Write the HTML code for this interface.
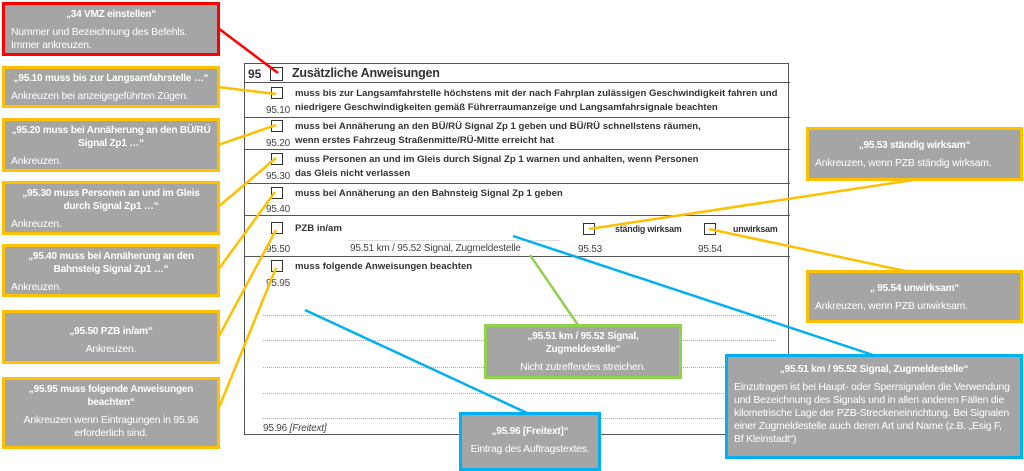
<!DOCTYPE html>
<html><head><meta charset="utf-8"><style>
body{margin:0;width:1024px;height:471px;background:#fff;position:relative;overflow:hidden;font-family:"Liberation Sans",sans-serif}
.a{position:absolute;white-space:nowrap}
.f{font-size:9.6px;font-weight:bold;color:#333;letter-spacing:0}
.s{font-size:8.9px;letter-spacing:-0.2px}
.n{font-size:10px;color:#444;letter-spacing:-0.2px}
.cb{position:absolute;width:10px;height:10px;border:1px solid #333;background:#fff}
.hl{position:absolute;left:244px;width:546px;height:0;border-top:1.5px solid #555}
.dl{position:absolute;left:263px;width:513px;height:0;border-top:1px dotted #aaa}
.c{position:absolute;box-sizing:border-box;background:#a5a5a5;border:3px solid #ffc000;color:#fff;font-size:10.4px;letter-spacing:-0.2px;line-height:13px;padding:3px 6px;white-space:nowrap;z-index:3}
.c b{display:block;text-align:center;margin-bottom:5px;font-size:10px}
.ctr{text-align:center}
</style></head><body>
<div style="position:absolute;left:244px;top:63px;width:545px;height:372px;border:1.5px solid #555;box-sizing:border-box"></div>
<div class="hl" style="top:82px"></div>
<div class="hl" style="top:117px"></div>
<div class="hl" style="top:149px"></div>
<div class="hl" style="top:183px"></div>
<div class="hl" style="top:215px"></div>
<div class="hl" style="top:256px"></div>
<div class="dl" style="top:315px"></div>
<div class="dl" style="top:340px"></div>
<div class="dl" style="top:367px"></div>
<div class="dl" style="top:393px"></div>
<div class="dl" style="top:418px"></div>
<div style="position:absolute;left:348px;top:240px;width:212px;border-top:1px solid #ddd"></div>

<div class="a" style="left:248px;top:67px;font-size:12px;font-weight:bold;color:#333">95</div>
<div class="cb" style="left:270px;top:67px;width:11px;height:12px"></div>
<div class="a" style="left:292px;top:66px;font-size:12.5px;font-weight:bold;color:#333;letter-spacing:-0.2px">Zusätzliche Anweisungen</div>

<div class="cb" style="left:271px;top:87px"></div>
<div class="a n" style="left:266px;top:105px">95.10</div>
<div class="a f" style="left:295px;top:88px">muss bis zur Langsamfahrstelle höchstens mit der nach Fahrplan zulässigen Geschwindigkeit fahren und</div>
<div class="a f" style="left:295px;top:102px">niedrigere Geschwindigkeiten gemäß Führerraumanzeige und Langsamfahrsignale beachten</div>

<div class="cb" style="left:271px;top:120px"></div>
<div class="a n" style="left:266px;top:138px">95.20</div>
<div class="a f" style="left:295px;top:121px">muss bei Annäherung an den BÜ/RÜ Signal Zp 1 geben und BÜ/RÜ schnellstens räumen,</div>
<div class="a f" style="left:295px;top:135px">wenn erstes Fahrzeug Straßenmitte/RÜ-Mitte erreicht hat</div>

<div class="cb" style="left:271px;top:153px"></div>
<div class="a n" style="left:266px;top:171px">95.30</div>
<div class="a f" style="left:295px;top:154px">muss Personen an und im Gleis durch Signal Zp 1 warnen und anhalten, wenn Personen</div>
<div class="a f" style="left:295px;top:168px">das Gleis nicht verlassen</div>

<div class="cb" style="left:271px;top:187px"></div>
<div class="a n" style="left:266px;top:204px">95.40</div>
<div class="a f" style="left:295px;top:188px">muss bei Annäherung an den Bahnsteig Signal Zp 1 geben</div>

<div class="cb" style="left:271px;top:222px"></div>
<div class="a n" style="left:266px;top:244px">95.50</div>
<div class="a f" style="left:295px;top:223px">PZB in/am</div>
<div class="a n" style="left:350px;top:243px">95.51 km / 95.52 Signal, Zugmeldestelle</div>
<div class="cb" style="left:583px;top:223px"></div>
<div class="a f s" style="left:615px;top:224px">ständig wirksam</div>
<div class="a n" style="left:578px;top:244px">95.53</div>
<div class="cb" style="left:704px;top:223px"></div>
<div class="a f s" style="left:733px;top:224px">unwirksam</div>
<div class="a n" style="left:698px;top:244px">95.54</div>

<div class="cb" style="left:271px;top:260px"></div>
<div class="a n" style="left:266px;top:278px">95.95</div>
<div class="a f" style="left:295px;top:261px">muss folgende Anweisungen beachten</div>
<div class="a n" style="left:263px;top:423px">95.96 <i>[Freitext]</i></div>

<svg width="1024" height="471" style="position:absolute;left:0;top:0;z-index:2">
<g stroke-width="2.5" fill="none">
<line x1="218" y1="28" x2="278" y2="73" stroke="#f00"/>
<line x1="218" y1="87" x2="276" y2="94" stroke="#ffc000"/>
<line x1="218" y1="145" x2="276" y2="125" stroke="#ffc000"/>
<line x1="218" y1="207" x2="276" y2="158" stroke="#ffc000"/>
<line x1="218" y1="270" x2="275" y2="192" stroke="#ffc000"/>
<line x1="218" y1="338" x2="276" y2="230" stroke="#ffc000"/>
<line x1="218" y1="410" x2="276" y2="268" stroke="#ffc000"/>
<line x1="913" y1="180" x2="589" y2="229" stroke="#ffc000"/>
<line x1="910" y1="272" x2="709" y2="229" stroke="#ffc000"/>
<line x1="578" y1="325" x2="530" y2="255" stroke="#92d050"/>
<line x1="873" y1="355" x2="513" y2="236" stroke="#00b0f0"/>
<line x1="527" y1="413" x2="305" y2="310" stroke="#00b0f0"/>
</g></svg>

<div class="c" style="left:2px;top:2px;width:218px;height:54px;border-color:#f00"><b>„34 VMZ einstellen“</b>Nummer und Bezeichnung des Befehls.<br>Immer ankreuzen.</div>
<div class="c" style="left:2px;top:66px;width:218px;height:42px"><b>„95.10 muss bis zur Langsamfahrstelle …“</b>Ankreuzen bei anzeigegeführten Zügen.</div>
<div class="c" style="left:2px;top:118px;width:218px;height:54px"><b>„95.20 muss bei Annäherung an den BÜ/RÜ<br>Signal Zp1 …“</b>Ankreuzen.</div>
<div class="c" style="left:2px;top:181px;width:218px;height:54px"><b>„95.30 muss Personen an und im Gleis<br>durch Signal Zp1 …“</b>Ankreuzen.</div>
<div class="c" style="left:2px;top:244px;width:218px;height:53px"><b>„95.40 muss bei Annäherung an den<br>Bahnsteig Signal Zp1 …“</b>Ankreuzen.</div>
<div class="c ctr" style="left:2px;top:310px;width:218px;height:54px;padding-top:12px"><b>„95.50 PZB in/am“</b>Ankreuzen.</div>
<div class="c ctr" style="left:2px;top:377px;width:218px;height:72px"><b>„95.95 muss folgende Anweisungen<br>beachten“</b>Ankreuzen wenn Eintragungen in 95.96<br>erforderlich sind.</div>
<div class="c" style="left:806px;top:127px;width:217px;height:54px;padding-top:9px"><b>„95.53 ständig wirksam“</b>Ankreuzen, wenn PZB ständig wirksam.</div>
<div class="c" style="left:806px;top:270px;width:217px;height:53px;padding-top:9px"><b>„ 95.54 unwirksam“</b>Ankreuzen, wenn PZB unwirksam.</div>
<div class="c ctr" style="left:484px;top:324px;width:198px;height:55px;border-color:#92d050"><b>„95.51 km / 95.52 Signal,<br>Zugmeldestelle“</b>Nicht zutreffendes streichen.</div>
<div class="c" style="left:725px;top:354px;width:298px;height:105px;border-color:#00b0f0;padding-top:6px"><b>„95.51 km / 95.52 Signal, Zugmeldestelle“</b>Einzutragen ist bei Haupt- oder Sperrsignalen die Verwendung<br>und Bezeichnung des Signals und in allen anderen Fällen die<br>kilometrische Lage der PZB-Streckeneinrichtung. Bei Signalen<br>einer Zugmeldestelle auch deren Art und Name (z.B. „Esig F,<br>Bf Kleinstadt“)</div>
<div class="c ctr" style="left:459px;top:412px;width:142px;height:59px;border-color:#00b0f0;padding-top:10px"><b>„95.96 [Freitext]“</b>Eintrag des Auftragstextes.</div>
</body></html>
